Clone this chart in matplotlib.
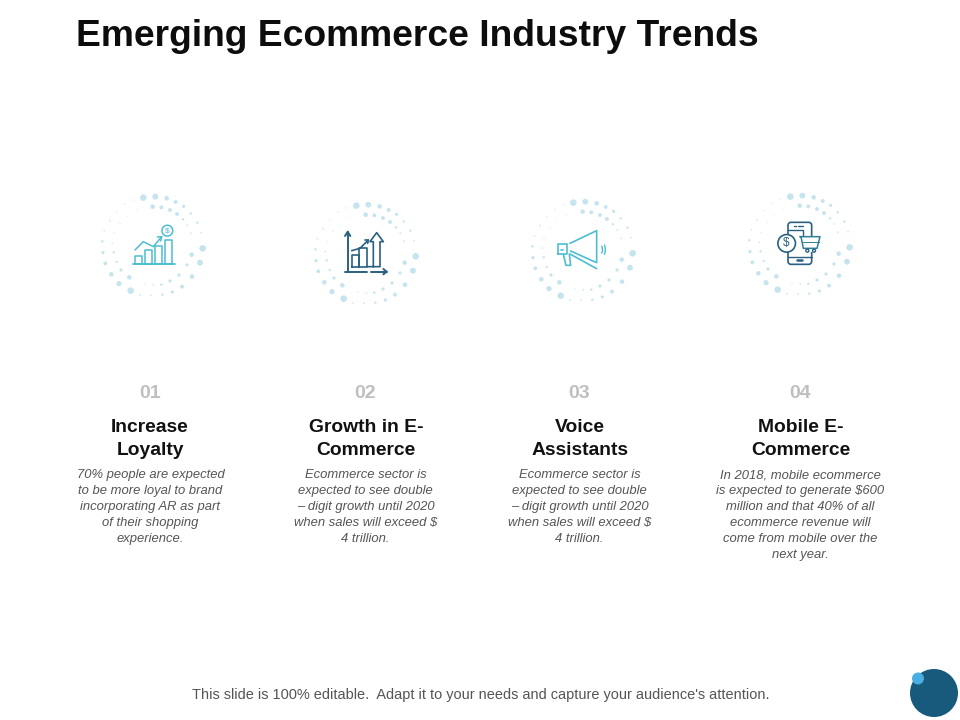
import matplotlib
matplotlib.use('Agg')
import matplotlib.pyplot as plt
from matplotlib.patches import Circle, Rectangle, FancyBboxPatch, Arc

plt.rcParams['font.family'] = ['Liberation Sans', 'DejaVu Sans']

title = 'Emerging Ecommerce Industry Trends'
footer = "This slide is 100% editable.  Adapt it to your needs and capture your audience's attention."
numbers = ['01', '02', '03', '04']
headings = [['Increase', 'Loyalty'],
            ['Growth in E-', 'Commerce'],
            ['Voice', 'Assistants'],
            ['Mobile E-', 'Commerce']]
bodies = [['70% people are expected', 'to be more loyal to brand', 'incorporating AR as part',
           'of their shopping', 'experience.'],
          ['Ecommerce sector is', 'expected to see double', '– digit growth until 2020',
           'when sales will exceed $', '4 trillion.'],
          ['Ecommerce sector is', 'expected to see double', '– digit growth until 2020',
           'when sales will exceed $', '4 trillion.'],
          ['In 2018, mobile ecommerce', 'is expected to generate $600', 'million and that 40% of all',
           'ecommerce revenue will', 'come from mobile over the', 'next year.']]
col_x = [150, 365, 579, 800]
ring_dx = [0, 213, 430, 647]
ring_dy = [0, 8, 5, -1]

# ring dots traced from the first ring: x, y, radius in 3x zoom pixels
dots_x = [160, 196, 230, 257, 281, 302, 322, 333, 338, 330, 306, 276, 247, 217, 183, 150, 122, 87, 64, 46, 39, 37, 43,
          60, 80, 105, 130, 188, 214, 240, 261, 279, 292, 303, 305, 291, 267, 240, 214, 190, 165, 118, 93, 80, 71, 67,
          72, 90, 110, 140]
dots_y = [53, 50, 55, 66, 79, 100, 128, 158, 205, 248, 290, 320, 336, 344, 346, 345, 332, 311, 283, 250, 218, 184, 152,
          122, 95, 72, 60, 80, 82, 90, 102, 118, 135, 160, 224, 255, 285, 303, 314, 314, 312, 292, 270, 246, 217, 190,
          160, 130, 110, 90]
dots_r = [9, 8, 6, 5, 4, 3, 3, 2, 9, 8, 6, 5, 4, 3, 2, 2, 9, 7, 6, 5, 4, 3, 2,
          2, 1.5, 1.5, 1.5, 6, 5, 5, 5, 3, 2, 2, 6, 4, 4, 4, 3, 2, 1.5, 6, 4, 3, 3, 2,
          1.5, 1.5, 1, 1]

teal = '#4dbdd3'
navy = '#2a6180'

fig = plt.figure(figsize=(9.6, 7.2), dpi=100)
ax = fig.add_axes([0, 0, 1, 1])
ax.set_xlim(0, 960)
ax.set_ylim(720, 0)
ax.axis('off')


def poly(x0, y0, pts, color, lw=1.2):
    """ Draw a line through zoomed (3x) points, with x0, y0 the zoom origin. """
    ax.plot([x0 + p[0] / 3. for p in pts], [y0 + p[1] / 3. for p in pts], color=color, lw=lw,
            solid_capstyle='round', solid_joinstyle='round')


def box(x0, y0, left, top, right, bottom, color, lw=1.2):
    poly(x0, y0, [(left, bottom), (left, top), (right, top), (right, bottom), (left, bottom)], color, lw)


# dotted rings, the small dots fade out
for dx, dy in zip(ring_dx, ring_dy):
    xs = [90 + x / 3. + dx for x in dots_x]
    ys = [180 + y / 3. + dy for y in dots_y]
    sizes = [(2 * (r + 0.8) / 3. * 0.72) ** 2 for r in dots_r]
    alphas = [min(1, 0.3 + r / 5.) for r in dots_r]
    ax.scatter(xs, ys, s=sizes, color='#c6e4ee', alpha=alphas, linewidths=0)

# icon 1 - bars and coin
x0, y0 = 120, 215
poly(x0, y0, [(40, 148), (165, 148)], teal, 1.3)
for left, top, right in [(45, 122, 65), (75, 105, 95), (105, 92, 125), (135, 75, 155)]:
    box(x0, y0, left, top, right, 148, teal, 1.1)
poly(x0, y0, [(45, 105), (70, 80), (100, 95), (125, 65)], teal, 1.1)
poly(x0, y0, [(112, 66), (125, 65), (122, 78)], teal, 1.1)
ax.add_patch(Circle((x0 + 142 / 3., y0 + 47 / 3.), 5.4, fill=False, ec=teal, lw=1.1))
ax.text(x0 + 142 / 3., y0 + 47 / 3., '$', color=teal, fontsize=6, ha='center', va='center')

# icon 2 - axes, bars, arrows
x0, y0 = 335, 220
poly(x0, y0, [(38, 35), (38, 155)], navy, 1.4)
poly(x0, y0, [(30, 48), (38, 35), (46, 48)], navy, 1.4)
poly(x0, y0, [(30, 155), (95, 155)], navy, 1.4)
poly(x0, y0, [(108, 155), (155, 155)], navy, 1.4)
poly(x0, y0, [(145, 147), (155, 155), (145, 163)], navy, 1.4)
box(x0, y0, 50, 105, 72, 140, navy)
box(x0, y0, 72, 85, 95, 140, navy)
poly(x0, y0, [(95, 140), (135, 140), (135, 65), (145, 65), (125, 38), (105, 65), (115, 65), (115, 140)], navy)
poly(x0, y0, [(50, 92), (75, 85), (100, 60)], navy)
poly(x0, y0, [(90, 60), (100, 60), (98, 70)], navy)

# icon 3 - megaphone
x0, y0 = 550, 220
poly(x0, y0, [(60, 70), (140, 32), (140, 128), (62, 93)], teal)
poly(x0, y0, [(60, 102), (140, 146)], teal)
box(x0, y0, 25, 73, 52, 103, teal)
poly(x0, y0, [(40, 103), (48, 136), (62, 136), (58, 103)], teal)
poly(x0, y0, [(33, 90), (40, 90)], teal)
ax.add_patch(Arc((x0 + 150 / 3., y0 + 89 / 3.), 5, 9, theta1=-70, theta2=70, ec=teal, lw=1))
ax.add_patch(Arc((x0 + 157 / 3., y0 + 89 / 3.), 6, 13, theta1=-70, theta2=70, ec=teal, lw=1))

# icon 4 - phone, coin, cart
x0, y0 = 770, 215
ax.add_patch(FancyBboxPatch((x0 + 54 / 3., y0 + 22 / 3.), 71 / 3., 126 / 3., boxstyle='round,pad=0,rounding_size=3',
                            fc='none', ec=navy, lw=1.2))
poly(x0, y0, [(54, 45), (100, 45), (100, 68)], navy, 1)
poly(x0, y0, [(54, 125), (125, 125)], navy, 1)
poly(x0, y0, [(72, 33), (78, 33)], navy, 1)
poly(x0, y0, [(85, 33), (100, 33)], navy, 1)
poly(x0, y0, [(80, 136), (95, 136)], navy, 1.8)
ax.add_patch(Circle((x0 + 50 / 3., y0 + 85 / 3.), 8.8, fc='white', ec=navy, lw=1.2, zorder=3))
ax.text(x0 + 50 / 3., y0 + 85 / 3., '$', color=navy, fontsize=8.5, ha='center', va='center', zorder=4)
ax.add_patch(Rectangle((x0 + 86 / 3., y0 + 62 / 3.), 66 / 3., 50 / 3., fc='white', ec='none', zorder=3))
cart = [(90, 65), (150, 65), (141, 100), (100, 100), (93, 65)]
ax.plot([x0 + p[0] / 3. for p in cart], [y0 + p[1] / 3. for p in cart], color='#2f8197', lw=1.1, zorder=4)
ax.plot([x0 + 96 / 3., x0 + 146 / 3.], [y0 + 82 / 3., y0 + 82 / 3.], color='#2f8197', lw=0.7, zorder=4)
for wx in [112, 132]:
    ax.add_patch(Circle((x0 + wx / 3., y0 + 107 / 3.), 1.5, fc='white', ec=navy, lw=1, zorder=4))

# text
ax.text(76.5, 37, title, fontsize=26.8, fontweight='bold', color='#0d0d0d', ha='left', va='center')
for i in range(4):
    ax.text(col_x[i], 393.5, numbers[i], fontsize=14, fontweight='bold', color='#bfbfbf', ha='center', va='center')
    for j, line in enumerate(headings[i]):
        ax.text(col_x[i] + (1 if i else 0), 427.5 + 23 * j, line, fontsize=13.9, fontweight='bold', color='#111111',
                ha='center', va='center')
    for j, line in enumerate(bodies[i]):
        ax.text(col_x[i] + 0.5, 475 + 16 * j, line, fontsize=9.4, style='italic', color='#555555',
                ha='center', va='center')
ax.text(480.5, 695.5, footer, fontsize=10.45, color='#555555', ha='center', va='center')

# corner circles
ax.add_patch(Circle((934, 693), 24, fc='#175a7b', ec='none'))
ax.add_patch(Circle((918, 678.5), 6, fc='#4aaee0', ec='none'))

fig.savefig('out.png', dpi=100)
